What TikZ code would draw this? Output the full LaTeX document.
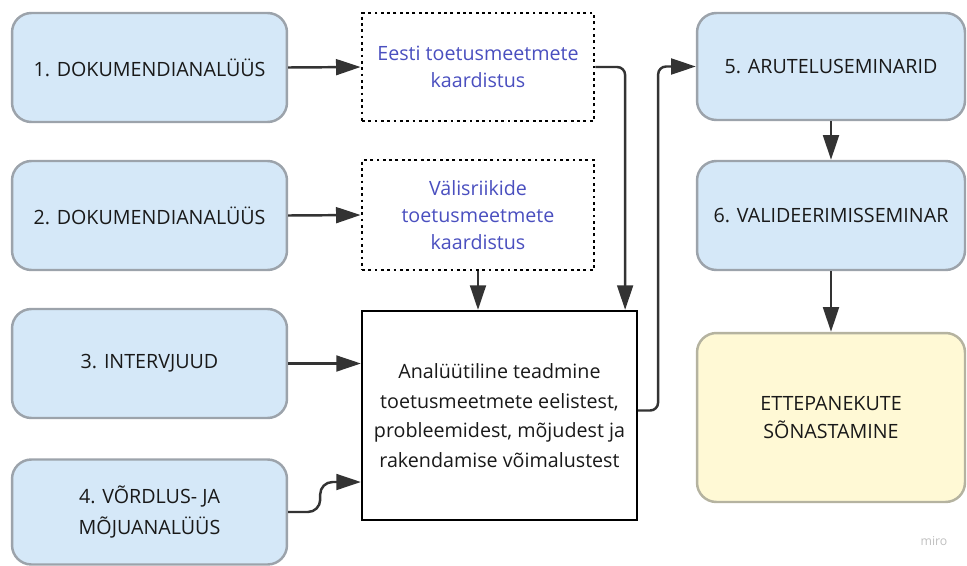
\documentclass[tikz,border=0pt]{standalone}
\usepackage{fontspec}
\setmainfont{Open Sans}
\usetikzlibrary{arrows.meta,calc}
\definecolor{stepfill}{HTML}{D5E8F8}
\definecolor{stepline}{HTML}{9CA3AB}
\definecolor{notefill}{HTML}{FFF9D5}
\definecolor{noteline}{HTML}{B5B3A0}
\definecolor{mapblue}{HTML}{4A4FBF}
\definecolor{arrowgray}{HTML}{333333}

\tikzset{
  stepbox/.style={draw=stepline, fill=stepfill, line width=1.4pt, rounded corners=11pt,
    minimum width=5.5cm, minimum height=2.18cm, align=center, text=black!90},
  mapbox/.style={draw=black, dotted, line width=1.6pt, minimum width=4.64cm,
    minimum height=2.16cm, align=center, text=mapblue},
  flow/.style={draw=arrowgray, line width=1.4pt, rounded corners=4.5pt,
    -{Triangle[length=14pt,width=9pt]}}
}

\begin{document}
\begin{tikzpicture}[x=0.02cm,y=-0.02cm,font=\fontsize{11.2}{15.5}\selectfont]
  \useasboundingbox (0,0) rectangle (967,565);
  \node[stepbox] (doc1) at (149.5,67.5) {1. DOKUMENDIANALÜÜS};
  \node[stepbox] (doc2) at (149.5,215.5) {2. DOKUMENDIANALÜÜS};
  \node[stepbox] (interv) at (149.5,363.5) {3. INTERVJUUD};
  \node[stepbox, minimum height=2.1cm, font=\fontsize{11.2}{18}\selectfont] (vordlus) at (149.5,512)
    {4. VÕRDLUS- JA\\MÕJUANALÜÜS};
  \node[mapbox] (eesti) at (478,67) {Eesti toetusmeetmete\\kaardistus};
  \node[mapbox, minimum height=2.2cm] (valis) at (478,215) {Välisriikide\\toetusmeetmete\\kaardistus};
  \node[draw=black, line width=1.3pt, minimum width=5.5cm, minimum height=4.18cm,
    align=center, text=black!90, font=\fontsize{11.2}{16.8}\selectfont] (teadmine) at (499.5,415.5)
    {Analüütiline teadmine\\toetusmeetmete eelistest,\\probleemidest, mõjudest ja\\rakendamise võimalustest};
  \node[stepbox, minimum width=5.36cm, minimum height=2.14cm] (arutelu) at (831,66.5) {5. ARUTELUSEMINARID};
  \node[stepbox, minimum width=5.36cm] (valid) at (831,215.5) {6. VALIDEERIMISSEMINAR};
  \node[stepbox, draw=noteline, fill=notefill, minimum width=5.36cm, minimum height=3.38cm] (ettepanek) at (831,417.5)
    {ETTEPANEKUTE\\SÕNASTAMINE};
  \node[text=black!25, font=\fontsize{7}{8}\selectfont] (miro) at (934,541) {miro};

  \draw[flow] (doc1.east) -- (eesti.west);
  \draw[flow] (doc2.east) -- (valis.west);
  \draw[flow] (interv.east) -- (interv.east -| teadmine.west);
  \draw[flow, rounded corners=7pt] (vordlus.east) -- ++(32,0) |- ($(teadmine.west)+(0,66.5)$);
  \draw[flow] (eesti.east) -| ($(teadmine.north east)+(-13,0)$);
  \draw[flow] (valis.south) -- (valis.south |- teadmine.north);
  \draw[flow] ($(teadmine.east)+(0,-5)$) -- ++(20,0) |- (arutelu.west);
  \draw[flow] (arutelu.south) -- (valid.north);
  \draw[flow] (valid.south) -- (ettepanek.north);
\end{tikzpicture}
\end{document}
